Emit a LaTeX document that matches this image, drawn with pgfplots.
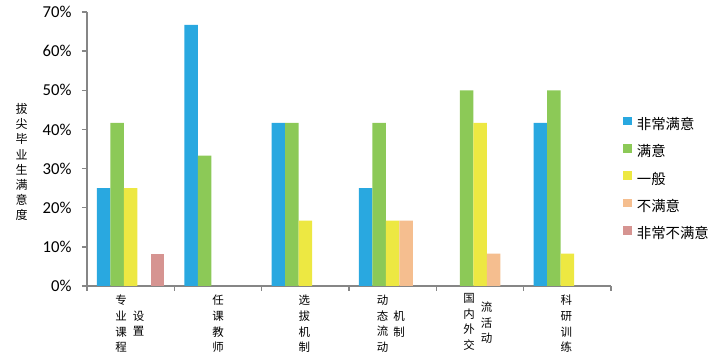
\documentclass[border=0pt]{standalone}
\usepackage{pgfplots}
\pgfplotsset{compat=1.18}
\usepackage{fontspec}
\setmainfont{Carlito}
\newfontfamily\cjk{Noto Sans CJK SC}
\definecolor{cA}{HTML}{29A8E0}
\definecolor{cB}{HTML}{8CC957}
\definecolor{cC}{HTML}{EDE842}
\definecolor{cD}{HTML}{F5BE8F}
\definecolor{cE}{HTML}{D69491}
\definecolor{axgray}{HTML}{868686}
\tikzset{colname/.style={font=\cjk\fontsize{8.6}{11.7}\selectfont, align=center, inner sep=0pt, anchor=north}}
\begin{document}
\begin{tikzpicture}
\useasboundingbox (0pt,0pt) rectangle (537.75pt,272.25pt);
\begin{axis}[
  at={(65.25pt,57.75pt)}, anchor=origin,
  scale only axis, width=393pt, height=205.5pt,
  xmin=0, xmax=6, ymin=0, ymax=70,
  axis x line*=bottom, axis y line*=left,
  axis line style={axgray, line width=1.1pt, -},
  xtick={0,1,2,3,4,5,6}, xticklabels={},
  ytick={0,10,20,30,40,50,60,70},
  yticklabels={0\%,10\%,20\%,30\%,40\%,50\%,60\%,70\%},
  tick align=outside, major tick length=3.75pt,
  tick style={axgray, line width=1pt},
  yticklabel style={font=\fontsize{12.5}{14}\selectfont, text=black, xshift=-4.3pt},
  ybar=0pt, bar width=10.125pt,
  clip=false,
  legend style={at={(1.023,0.619)}, anchor=north west, draw=none, fill=none,
    inner sep=0pt, row sep=9.5pt, column sep=3.75pt,
    font=\cjk\fontsize{10.8}{12}\selectfont,
    nodes={inner sep=0pt, text height=7.8pt, text depth=1.5pt}},
  legend cell align=left,
  legend image code/.code={\fill[#1] (0pt,0pt) rectangle (6.4pt,6.4pt);},
]
\addplot[fill=cA, draw=none] coordinates {(0.5,25) (1.5,66.7) (2.5,41.7) (3.5,25) (5.5,41.7)};
\addplot[fill=cB, draw=none] coordinates {(0.5,41.7) (1.5,33.3) (2.5,41.7) (3.5,41.7) (4.5,50) (5.5,50)};
\addplot[fill=cC, draw=none] coordinates {(0.5,25) (2.5,16.7) (3.5,16.7) (4.5,41.7) (5.5,8.3)};
\addplot[fill=cD, draw=none] coordinates {(3.5,16.7) (4.5,8.3)};
\addplot[fill=cE, draw=none] coordinates {(0.5,8.3)};
\legend{非常满意,满意,一般,不满意,非常不满意}
\node[colname, xshift=-7.1pt, yshift=-6.75pt] at (axis cs:0.5,0) {专\\业\\课\\程};
\node[colname, xshift=5.9pt, yshift=-18.45pt] at (axis cs:0.5,0) {设\\置};
\node[colname, xshift=0pt, yshift=-6.75pt] at (axis cs:1.5,0) {任\\课\\教\\师};
\node[colname, xshift=-0.7pt, yshift=-6.75pt] at (axis cs:2.5,0) {选\\拔\\机\\制};
\node[colname, xshift=-7.5pt, yshift=-6.75pt] at (axis cs:3.5,0) {动\\态\\流\\动};
\node[colname, xshift=4.9pt, yshift=-18.45pt] at (axis cs:3.5,0) {机\\制};
\node[colname, xshift=-8.1pt, yshift=-5.5pt] at (axis cs:4.5,0) {国\\内\\外\\交};
\node[colname, xshift=5pt, yshift=-11.8pt] at (axis cs:4.5,0) {流\\活\\动};
\node[colname, xshift=-0.7pt, yshift=-6.75pt] at (axis cs:5.5,0) {科\\研\\训\\练};
\end{axis}
\node[font=\cjk\fontsize{9}{11.3}\selectfont, align=center, inner sep=0pt] at (16.3pt,150.75pt) {拔\\尖\\毕\\业\\生\\满\\意\\度};
\end{tikzpicture}
\end{document}
